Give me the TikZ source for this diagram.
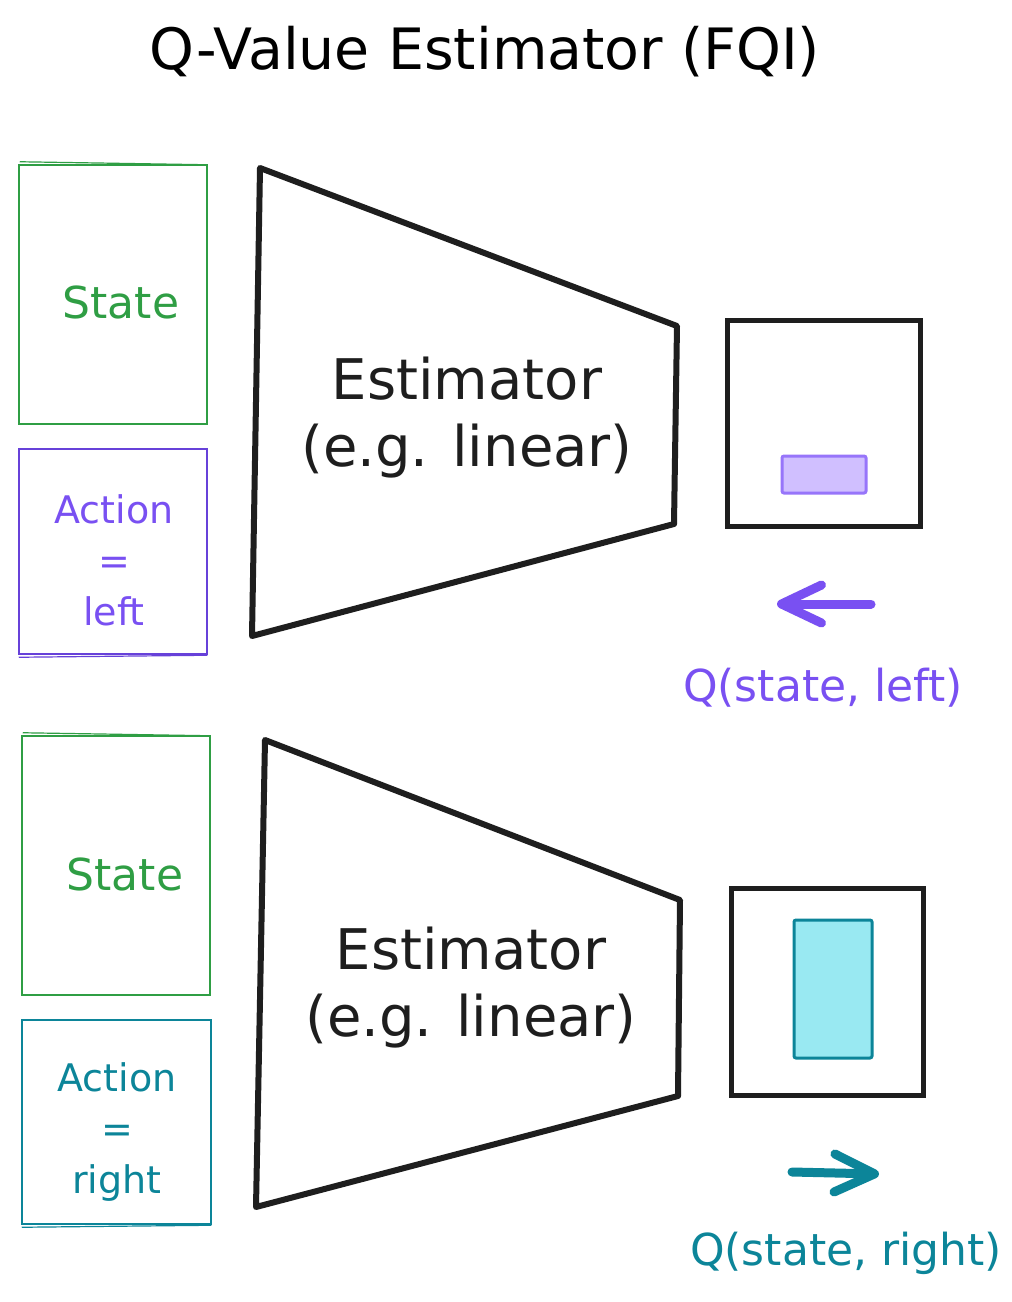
\documentclass[tikz,border=0pt]{standalone}
\usepackage{fontspec}
\usetikzlibrary{arrows.meta}
\setmainfont{DejaVu Sans}
\definecolor{sgreen}{HTML}{2F9E44}
\definecolor{spurple}{HTML}{6741D9}
\definecolor{sviolet}{HTML}{7950F2}
\definecolor{lviolet}{HTML}{D0BFFF}
\definecolor{mviolet}{HTML}{9775FA}
\definecolor{steal}{HTML}{0C8599}
\definecolor{lteal}{HTML}{99E9F2}
\definecolor{ink}{HTML}{1E1E1E}
\begin{document}
\begin{tikzpicture}[x=1pt,y=-1pt,
  inbox/.style={draw, line width=2.5pt, align=center},
  outbox/.style={draw=ink, line width=5pt},
  trap/.style={draw=ink, line width=6pt, line join=round},
  esttext/.style={align=center, text=ink, font=\fontsize{56}{67}\selectfont},
  qarrow/.style={line width=9pt, line cap=round, -{Straight Barb[length=40pt,width=38pt,line width=9pt,round]}},
  qlabel/.style={font=\fontsize{44}{50}\selectfont},
]
\useasboundingbox (0,0) rectangle (1012,1302);
\fill[white] (0,0) rectangle (1012,1302);

% title
\node (title) at (485,52) {\fontsize{57}{64}\selectfont Q-Value Estimator (FQI)};

% ---------- top row ----------
\node[inbox, draw=sgreen, minimum width=188pt, minimum height=259pt] (s1) at (113,294.5) {};
\node[text=sgreen, font=\fontsize{44}{50}\selectfont] (s1t) at (121,302) {State};
\draw[sgreen, line width=1.2pt] ([shift={(2,-2)}]s1.north west) -- ([shift={(-1,1)}]s1.north east);

\node[inbox, draw=spurple, minimum width=188pt, minimum height=205pt] (a1) at (113,551.5) {};
\node[text=sviolet, align=center, font=\fontsize{38}{51}\selectfont] (a1t) at (114,560) {Action\\=\\left};
\draw[spurple, line width=1.2pt] ([shift={(1,2)}]a1.south west) -- ([shift={(-1,0)}]a1.south east);

\coordinate (t1a) at (260,168);
\coordinate (t1b) at (677,326);
\coordinate (t1c) at (674,524);
\coordinate (t1d) at (252,636);
\draw[trap] (t1a) -- (t1b) -- (t1c) -- (t1d) -- cycle;
\node[esttext] (e1) at (467,418) {Estimator\\(e.g. linear)};

\node[outbox, minimum width=193pt, minimum height=206pt] (o1) at (823.5,423) {};
\node[draw=mviolet, fill=lviolet, line width=3pt, minimum width=84pt, minimum height=37pt,
  rounded corners=2pt] (v1) at (824,474.5) {};

\coordinate (ar1s) at (871,604);
\coordinate (ar1e) at (777,604);
\draw[qarrow, draw=sviolet] (ar1s) -- (ar1e);
\node[qlabel, text=sviolet] (q1) at (823,688) {Q(state, left)};

% ---------- bottom row ----------
\node[inbox, draw=sgreen, minimum width=188pt, minimum height=259pt] (s2) at (116,865.5) {};
\node[text=sgreen, font=\fontsize{44}{50}\selectfont] (s2t) at (125,874) {State};
\draw[sgreen, line width=1.2pt] ([shift={(2,-2)}]s2.north west) -- ([shift={(-1,1)}]s2.north east);

\node[inbox, draw=steal, minimum width=189pt, minimum height=204pt] (a2) at (116.5,1122) {};
\node[text=steal, align=center, font=\fontsize{38}{51}\selectfont] (a2t) at (117,1132) {Action\\=\\right};
\draw[steal, line width=1.2pt] ([shift={(1,2)}]a2.south west) -- ([shift={(-1,0)}]a2.south east);

\coordinate (t2a) at (265,740);
\coordinate (t2b) at (680,900);
\coordinate (t2c) at (678,1096);
\coordinate (t2d) at (256,1207);
\draw[trap] (t2a) -- (t2b) -- (t2c) -- (t2d) -- cycle;
\node[esttext] (e2) at (471,988) {Estimator\\(e.g. linear)};

\node[outbox, minimum width=192pt, minimum height=207pt] (o2) at (827,991.5) {};
\node[draw=steal, fill=lteal, line width=3pt, minimum width=78pt, minimum height=138pt,
  rounded corners=2pt] (v2) at (833,989) {};

\coordinate (ar2s) at (792,1172);
\coordinate (ar2e) at (879,1174);
\draw[qarrow, draw=steal] (ar2s) -- (ar2e);
\node[qlabel, text=steal] (q2) at (846,1253) {Q(state, right)};
\end{tikzpicture}
\end{document}
